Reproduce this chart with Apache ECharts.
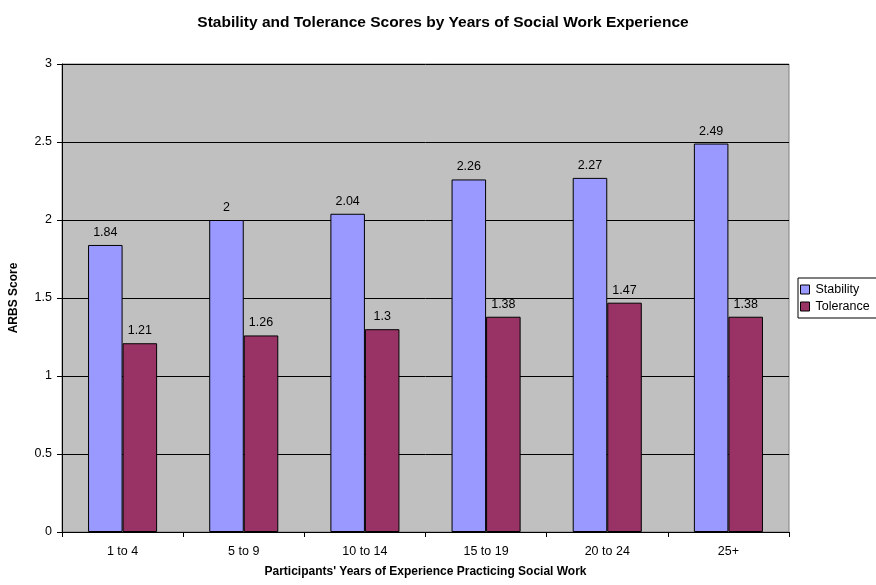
<!DOCTYPE html>
<html><head><meta charset="utf-8">
<script src="https://cdn.jsdelivr.net/npm/echarts@6/dist/echarts.min.js"></script>
<style>html,body{margin:0;padding:0;background:#fff}#c{width:876px;height:585px}</style>
</head><body><div id="c"></div>
<script>
var categories = ['1 to 4','5 to 9','10 to 14','15 to 19','20 to 24','25+'];
var stability = [1.84, 2, 2.04, 2.26, 2.27, 2.49];
var tolerance = [1.21, 1.26, 1.3, 1.38, 1.47, 1.38];
var chart = echarts.init(document.getElementById('c'));
var f = 'Liberation Sans, Arial, sans-serif';
var lbl = {show:true, position:'top', color:'#000', fontFamily:f, fontSize:12.5, distance:6};
chart.setOption({
  animation:false,
  title:{text:'Stability and Tolerance Scores by Years of Social Work Experience', left:438, top:10, textAlign:'center',
    textStyle:{fontFamily:f, fontSize:15.5, fontWeight:'bold', color:'#000'}},
  legend:{orient:'vertical', left:798, top:278, itemWidth:9, itemHeight:9, itemGap:4, padding:[5,10,5,2],
    borderColor:'#000', borderWidth:1, icon:'rect',
    itemStyle:{borderColor:'#000', borderWidth:1},
    textStyle:{fontFamily:f, fontSize:12.5, color:'#000', padding:[0,0,0,1]}, data:['Stability','Tolerance']},
  grid:{left:58, right:87, top:64, bottom:53, backgroundColor:'#C0C0C0', show:true, borderColor:'#808080', borderWidth:1},
  xAxis:{type:'category', data:categories,
    name:"Participants' Years of Experience Practicing Social Work", nameLocation:'middle', nameGap:34,
    nameTextStyle:{fontFamily:f, fontSize:12, fontWeight:'bold', color:'#000'},
    axisLine:{lineStyle:{color:'#000'}}, axisTick:{show:true, lineStyle:{color:'#000'}, length:5},
    axisLabel:{fontFamily:f, fontSize:12.5, color:'#000', margin:13}},
  yAxis:{type:'value', min:0, max:3, interval:0.5,
    name:'ARBS Score', nameLocation:'middle', nameGap:42,
    nameTextStyle:{fontFamily:f, fontSize:12, fontWeight:'bold', color:'#000'},
    axisLine:{show:true, lineStyle:{color:'#000'}}, axisTick:{show:true, lineStyle:{color:'#000'}, length:5},
    axisLabel:{fontFamily:f, fontSize:12.5, color:'#000', margin:10},
    splitLine:{lineStyle:{color:'#000', width:1}}},
  series:[
    {name:'Stability', type:'bar', data:stability, barGap:'0%', barCategoryGap:'43%',
      itemStyle:{color:'#9999FF', borderColor:'#000', borderWidth:1}, label:lbl},
    {name:'Tolerance', type:'bar', data:tolerance,
      itemStyle:{color:'#993366', borderColor:'#000', borderWidth:1}, label:lbl}
  ]
});
</script></body></html>
